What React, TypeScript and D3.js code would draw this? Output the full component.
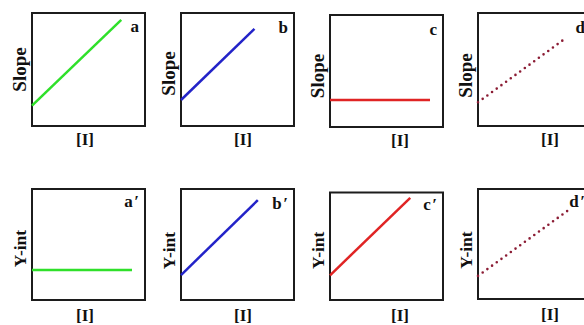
import React from "react";
import * as d3 from "d3";

// ---- data ----
const panelIds = ["a", "b", "c", "d", "a\u2032", "b\u2032", "c\u2032", "d\u2032"];
const yLabels = ["Slope", "Slope", "Slope", "Slope", "Y-int", "Y-int", "Y-int", "Y-int"];
const xLabel = "[I]";
const lineStartX = [0, 0, 0, 0, 0, 0, 0, 0];
const lineStartY = [0.18, 0.23, 0.24, 0.21, 0.27, 0.225, 0.23, 0.21];
const lineEndX = [0.79, 0.65, 0.885, 0.78, 0.885, 0.68, 0.71, 0.83];
const lineEndY = [0.94, 0.86, 0.24, 0.78, 0.27, 0.9, 0.95, 0.83];

// ---- styles ----
const lineColors = ["#2fe02a", "#2323c8", "#e02424", "#8b1c34", "#2fe02a", "#2323c8", "#e02424", "#8b1c34"];
const lineDotted = [false, false, false, true, false, false, false, true];

// ---- layout ----
const boxes = [
  { x: 32, y: 13, w: 113, h: 113, lblDy: 19, xlDx: -3.5, xlDy: 19, ylDy: 0 },
  { x: 181, y: 13, w: 113, h: 113, lblDy: 20, xlDx: 5.5, xlDy: 19, ylDy: 4 },
  { x: 330, y: 15, w: 113, h: 112, lblDy: 20, xlDx: 13.5, xlDy: 19, ylDy: 5 },
  { x: 478, y: 13, w: 113, h: 113, lblDy: 20, xlDx: 15.5, xlDy: 19, ylDy: 6 },
  { x: 32, y: 189, w: 113, h: 111, lblDy: 18, xlDx: -3.5, xlDy: 21, ylDy: 4 },
  { x: 181, y: 189, w: 113, h: 111, lblDy: 20, xlDx: 5.5, xlDy: 21, ylDy: 6 },
  { x: 330, y: 192.5, w: 113, h: 107.5, lblDy: 17.5, xlDx: 13.5, xlDy: 21, ylDy: 4 },
  { x: 478, y: 189, w: 113, h: 110, lblDy: 18, xlDx: 15.5, xlDy: 21, ylDy: 6 },
];

const FONT = "'Liberation Serif', 'Times New Roman', serif";

function Panel({ i }: { i: number }) {
  const b = boxes[i];
  const x = d3.scaleLinear().domain([0, 1]).range([b.x, b.x + b.w]);
  const y = d3.scaleLinear().domain([0, 1]).range([b.y + b.h, b.y]);
  const pts: [number, number][] = [
    [lineStartX[i], lineStartY[i]],
    [lineEndX[i], lineEndY[i]],
  ];
  const line = d3
    .line<[number, number]>()
    .x((d) => x(d[0]))
    .y((d) => y(d[1]));
  const isTop = i < 4;
  const cx = b.x + b.w / 2;
  const cy = b.y + b.h / 2 + b.ylDy;
  const ylx = b.x - 6;
  const id = panelIds[i];
  const hasPrime = id.includes("\u2032");
  const base = id.replace("\u2032", "");
  return (
    <g>
      <rect x={b.x} y={b.y} width={b.w} height={b.h} fill="#fff" stroke="#1c1c1c" strokeWidth={2} />
      <path
        d={line(pts) || ""}
        fill="none"
        stroke={lineColors[i]}
        strokeWidth={lineDotted[i] ? 2.6 : 2.5}
        strokeLinecap={lineDotted[i] ? "round" : "butt"}
        strokeDasharray={lineDotted[i] ? "0 5.8" : undefined}
      />
      <text
        x={b.x + b.w - 6}
        y={b.y + b.lblDy}
        textAnchor="end"
        fontFamily={FONT}
        fontWeight="bold"
        fontSize={17}
        fill="#111"
      >
        {base}
        {hasPrime ? <tspan dx={1.5}>{"\u2032"}</tspan> : null}
      </text>
      <text
        transform={`translate(${ylx},${cy}) rotate(-90)`}
        textAnchor="middle"
        fontFamily={FONT}
        fontWeight="bold"
        fontSize={isTop ? 19 : 17.5}
        fill="#111"
      >
        {yLabels[i]}
      </text>
      <text
        x={cx + b.xlDx}
        y={b.y + b.h + b.xlDy}
        textAnchor="middle"
        fontFamily={FONT}
        fontWeight="bold"
        fontSize={17}
        fill="#111"
      >
        {xLabel}
      </text>
    </g>
  );
}

export default function App() {
  return (
    <svg
      width={584}
      height={325}
      style={{ position: "absolute", left: 0, top: 0, background: "#fff" }}
    >
      <rect x={0} y={0} width={584} height={325} fill="#fff" />
      {panelIds.map((_, i) => (
        <Panel key={i} i={i} />
      ))}
    </svg>
  );
}
